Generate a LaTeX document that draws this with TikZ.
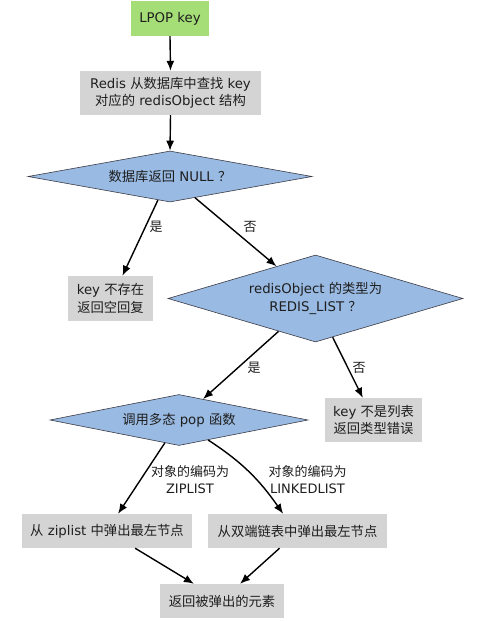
\documentclass[tikz,border=0pt]{standalone}
\usepackage{fontspec}
\setmainfont{DejaVu Sans}
\newfontfamily\cjkfont{Noto Sans CJK SC}
\newcommand\zhx[1]{{\cjkfont #1}}
\usetikzlibrary{shapes.geometric,arrows.meta,calc}
\definecolor{lpopgreen}{RGB}{165,222,118}
\definecolor{boxgray}{RGB}{212,212,212}
\definecolor{diablue}{RGB}{153,186,226}
\definecolor{diaedge}{RGB}{60,60,70}
\definecolor{txt}{RGB}{30,30,30}
\begin{document}
\begin{tikzpicture}[x=1pt,y=-1pt,
  box/.style={rectangle, fill=boxgray, inner sep=0pt, align=center,
    font=\fontsize{13.3}{17.5}\selectfont, text=txt},
  dia/.style={diamond, draw=diaedge, line width=0.6pt, fill=diablue, inner sep=0pt,
    align=center, font=\fontsize{13.3}{17.5}\selectfont, text=txt},
  arr/.style={-{Latex[length=10pt,width=8pt]}, line width=1.4pt, draw=black},
  lbl/.style={font=\fontsize{13}{17}\selectfont, text=txt, inner sep=0pt, align=center}]
\useasboundingbox (0,0) rectangle (503,621);
\fill[white] (0,0) rectangle (503,621);

% nodes
\node[box, fill=lpopgreen, minimum width=78pt, minimum height=35pt] (lpop) at (170,18.5) {LPOP key};
\node[box, minimum width=181pt, minimum height=44pt] (redis) at (170.5,93)
  {Redis \zhx{从数据库中查找} key\\ \zhx{对应的} redisObject \zhx{结构}};
\node[dia, aspect=5.7, minimum width=284pt, minimum height=51pt] (d1) at (170,176.5)
  {\zhx{数据库返回} NULL\ \zhx{？}};
\node[box, minimum width=85pt, minimum height=45pt] (key1) at (110.5,298.5)
  {key \zhx{不存在}\\ \zhx{返回空回复}};
\node[dia, aspect=3.4, minimum width=295pt, minimum height=87pt] (d2) at (315.5,298.5)
  {redisObject \zhx{的类型为}\\ REDIS\_LIST\ \zhx{？}};
\node[dia, aspect=5.06, minimum width=258pt, minimum height=51pt] (d3) at (179,420)
  {\zhx{调用多态} pop \zhx{函数}};
\node[box, minimum width=97pt, minimum height=44pt] (key2) at (373.5,420)
  {key \zhx{不是列表}\\ \zhx{返回类型错误}};
\node[box, minimum width=170pt, minimum height=34pt] (zip) at (107,531)
  {\zhx{从} ziplist \zhx{中弹出最左节点}};
\node[box, minimum width=179pt, minimum height=34pt] (dbl) at (297.5,531)
  {\zhx{从双端链表中弹出最左节点}};
\node[box, minimum width=124pt, minimum height=34pt] (ret) at (222,601)
  {\zhx{返回被弹出的元素}};

% connectors
\draw[arr] (lpop.south) -- (redis.north);
\draw[arr] (redis.south) -- (d1.north);
\draw[arr] ($(d1.south)!0.085!(d1.west)$) -- ($(key1.north west)!0.64!(key1.north east)$);
\draw[arr] ($(d1.south)!0.176!(d1.east)$) -- ($(d2.north)!0.264!(d2.west)$);
\draw[arr] ($(d2.south)!0.25!(d2.west)$) -- ($(d3.north)!0.186!(d3.east)$);
\draw[arr] ($(d2.south)!0.116!(d2.east)$) -- ($(key2.north west)!0.39!(key2.north east)$);
\draw[arr] ($(d3.south)!0.11!(d3.west)$) -- ($(zip.north west)!0.565!(zip.north east)$);
\draw[arr] ($(d3.south)!0.225!(d3.east)$) to[out=-33,in=125] ($(dbl.north west)!0.42!(dbl.north east)$);
\draw[arr] ($(zip.south west)!0.665!(zip.south east)$) -- ($(ret.north west)!0.274!(ret.north east)$);
\draw[arr] ($(dbl.south west)!0.4!(dbl.south east)$) -- ($(ret.north west)!0.645!(ret.north east)$);

% labels
\node[lbl] (y1) at (156,227) {\zhx{是}};
\node[lbl] (n1) at (250,227) {\zhx{否}};
\node[lbl] (y2) at (254,368) {\zhx{是}};
\node[lbl] (n2) at (359,368) {\zhx{否}};
\node[lbl] (c1) at (190,480) {\zhx{对象的编码为}\\ ZIPLIST};
\node[lbl] (c2) at (307.5,480) {\zhx{对象的编码为}\\ LINKEDLIST};
\end{tikzpicture}
\end{document}
